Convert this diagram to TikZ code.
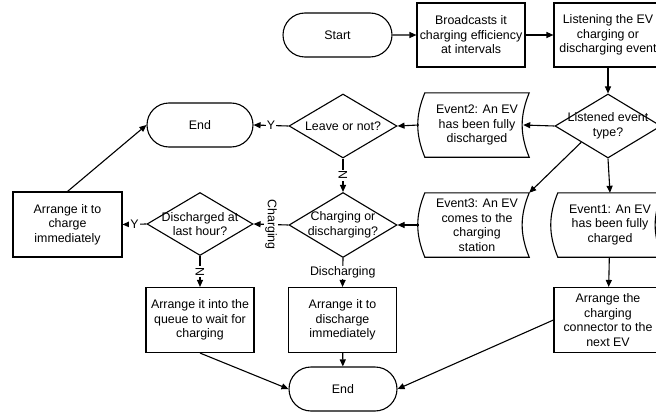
\documentclass[tikz,border=0pt]{standalone}
\usepackage{fontspec}
\setmainfont{Liberation Sans}
\usetikzlibrary{calc, shapes.geometric, shapes.misc, arrows.meta, positioning}

\begin{document}
\begin{tikzpicture}[x=1pt, y=-1pt,
        font={\fontsize{12.4}{14.5}\selectfont},
        every node/.style={align=center},
        line/.style={line width=1.1pt, -{Triangle[length=7pt, width=6pt]}},
        terminal/.style={rounded rectangle, draw, line width=1.1pt, minimum height=44pt, inner sep=0pt},
        process/.style={rectangle, draw, line width=1.1pt, minimum width=108pt, minimum height=65pt, inner sep=0pt},
        decision/.style={diamond, draw, line width=1.1pt, minimum width=108pt, minimum height=64pt, inner sep=0pt},
        event/.style={minimum width=104pt, minimum height=64pt, inner sep=0pt},
        edgelabel/.style={fill=white, inner sep=1pt}]
            \useasboundingbox (0,0) rectangle (656,412);
            \clip (0,0) rectangle (656,412);

            % Top row
            \node[terminal, minimum width=109pt] (start) at (337.5,35) {Start};
            \node[process, minimum height=64pt] (bc) at (471,35) {Broadcasts it\\charging efficiency\\at intervals};
            \node[process, minimum height=64pt] (listen) at (608,35) {Listening the EV\\charging or\\discharging event};

            % Event type
            \node[decision, minimum width=106pt] (type) at (608,126) {};
            \node (type-t) at (type) {Listened event\\type?};
            \node[event] (e2) at (477,125) {Event2: An EV\\has been fully\\discharged};
            \node[decision] (leave) at (343,126) {};
            \node (leave-t) at (leave) {Leave or not?};
            \node[terminal, minimum width=106pt] (end1) at (200,125) {End};

            % Middle row
            \node[event] (e1) at (610,225) {Event1: An EV\\has been fully\\charged};
            \node[event] (e3) at (477,225) {Event3: An EV\\comes to the\\charging\\station};
            \node[decision, minimum height=65pt] (cd) at (343,225) {};
            \node (cd-t) at (cd) {Charging or\\discharging?};
            \node[decision, minimum width=106pt, minimum height=63pt] (dl) at (200,224) {};
            \node (dl-t) at (dl) {Discharged at\\last hour?};
            \node[process, minimum width=109pt] (now) at (67.5,224.5) {Arrange it to\\charge\\immediately};

            % Bottom row
            \node[process] (queue) at (200,320) {Arrange it into the\\queue to wait for\\charging};
            \node[process] (dis) at (342.5,320) {Arrange it to\\discharge\\immediately};
            \node[process] (conn) at (608,320) {Arrange the\\charging\\connector to the\\next EV};
            \node[terminal, minimum width=108pt] (end2) at (343,389) {End};

            % Event outlines
            \foreach \e in {e1,e2,e3}
                \draw[line width=1.1pt] (\e.north west) to[bend right=22] (\e.south west)
                    -- (\e.south east) to[bend left=22] (\e.north east) -- cycle;

            % Connectors
            \draw[line] (start) -- (bc);
            \draw[line] (bc) -- (listen);
            \draw[line] (listen) -- (type);
            \draw[line] (type.west) -- ([xshift=-6pt]e2.east);
            \draw[line] ([xshift=-6pt]e2.west) -- (leave.east);
            \draw[line] (leave.west) -- node[edgelabel] (y1) {Y} (end1.east);
            \draw[line] (leave.south) -- node[edgelabel, rotate=-90] (n1) {N} (cd.north);
            \draw[line] (type.south west) -- (e3.north east);
            \draw[line] (type.south) -- (e1.north);
            \draw[line] ([xshift=-6pt]e3.west) -- (cd.east);
            \draw[line] (cd.west) -- node[edgelabel, rotate=-90] (lc) {Charging} (dl.east);
            \draw[line] (cd.south) -- node[edgelabel] (ld) {Discharging} (dis.north);
            \draw[line] (dl.west) -- node[edgelabel] (y2) {Y} (now.east);
            \draw[line] (dl.south) -- node[edgelabel, rotate=-90] (n2) {N} (queue.north);
            \draw[line] (now.north) -- (end1.west);
            \draw[line] (queue.south) -- (end2.west);
            \draw[line] (dis) -- (end2);
            \draw[line] (e1) -- (conn);
            \draw[line] (conn.west) -- (end2.east);
        \end{tikzpicture}
\end{document}
